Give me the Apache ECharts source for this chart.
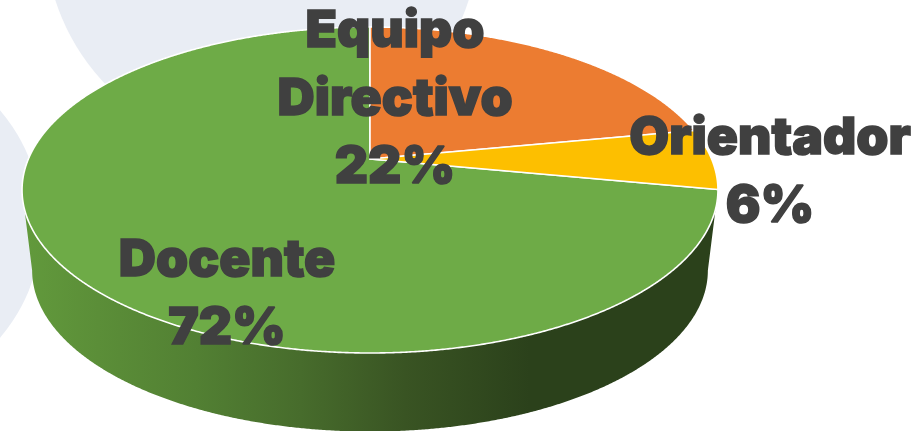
<!DOCTYPE html>
<html>
<head>
<meta charset="utf-8">
<style>html,body{margin:0;padding:0;background:#fff}#c{width:917px;height:431px}</style>
<script src="https://cdn.jsdelivr.net/npm/echarts@6/dist/echarts.min.js"></script>
</head>
<body>
<div id="c"></div>
<script>
var categories = ['Equipo\nDirectivo', 'Orientador', 'Docente'];
var values = [22, 6, 72];
var sliceColors = ['#EC7C31', '#FDBF00', '#6EAB47'];

// Perspective view of the pie disc
var apexX = 370, apexY = 159, scaleX = 341.6, scaleY = 157.1, persp = 0.1902;
var topCy = 190, topRy = 163;
var botScaleX = 0.971, botCy = 270.5, botRy = 161;
var labelPos = [[395, 99.5], [770, 172.5], [227, 294.5]];

function project(deg) {
  var t = deg * Math.PI / 180, u = Math.sin(t), v = -Math.cos(t), d = 1 - persp * v;
  return [apexX + scaleX * u / d, apexY + scaleY * v / d];
}
function projectBottom(deg) {
  var p = project(deg);
  return [apexX + botScaleX * (p[0] - apexX), botCy + (botRy / topRy) * (p[1] - topCy)];
}
function arc(fn, a, b) {
  var pts = [], n = Math.max(2, Math.ceil(Math.abs(b - a) * 4));
  for (var i = 0; i <= n; i++) pts.push(fn(a + (b - a) * i / n));
  return pts;
}
var total = values.reduce(function (s, v) { return s + v; }, 0);
var frontA = Math.acos(-persp) * 180 / Math.PI, frontB = 360 - frontA;

var sideGrad = new echarts.graphic.LinearGradient(22, 0, 718, 0, [
  { offset: 0, color: '#629A3C' },
  { offset: 0.11, color: '#5B8E38' },
  { offset: 0.25, color: '#528033' },
  { offset: 0.40, color: '#476C2C' },
  { offset: 0.55, color: '#395423' },
  { offset: 0.73, color: '#2B411B' },
  { offset: 1, color: '#2B411B' }
], true);

function renderItem(params, api) {
  var i = params.dataIndex, before = 0;
  for (var k = 0; k < i; k++) before += values[k];
  var a = before / total * 360, b = (before + api.value(0)) / total * 360;
  var children = [];
  var sa = Math.max(a, frontA), sb = Math.min(b, frontB);
  if (sb > sa) {
    children.push({
      type: 'polygon', z2: 1,
      shape: { points: arc(project, sa, sb).concat(arc(projectBottom, sb, sa)) },
      style: { fill: sideGrad }
    });
  }
  children.push({
    type: 'polygon', z2: 2 + (i === 2 ? 0 : 1),
    shape: { points: [[apexX, apexY]].concat(arc(project, a, b)) },
    style: { fill: sliceColors[i], stroke: '#fff', lineWidth: 1.6, lineJoin: 'round' }
  });
  children.push({
    type: 'text', z2: 10,
    x: labelPos[i][0], y: labelPos[i][1],
    style: {
      text: categories[i] + '\n' + api.value(0) + '%',
      x: 0, y: 0, align: 'center', verticalAlign: 'middle',
      font: '900 51.5px "Inter", "Liberation Sans", sans-serif',
      lineHeight: 68, fill: '#404040', stroke: '#404040', lineWidth: 1.5
    }
  });
  return { type: 'group', children: children };
}

var chart = echarts.init(document.getElementById('c'), null, { renderer: 'canvas' });
chart.setOption({
  animation: false,
  backgroundColor: '#fff',
  graphic: { elements: [
    { type: 'circle', silent: true, z: 0, shape: { cx: 262, cy: -66, r: 217 }, style: { fill: '#E9EDF4' } },
    { type: 'circle', silent: true, z: 0, shape: { cx: -133, cy: 224, r: 175 }, style: { fill: '#E9EDF4' } }
  ] },
  series: [{
    type: 'custom',
    coordinateSystem: 'none',
    z: 5,
    silent: true,
    data: values.map(function (v, i) { return { name: categories[i], value: [v] }; }),
    renderItem: renderItem
  }]
});
</script>
</body>
</html>
